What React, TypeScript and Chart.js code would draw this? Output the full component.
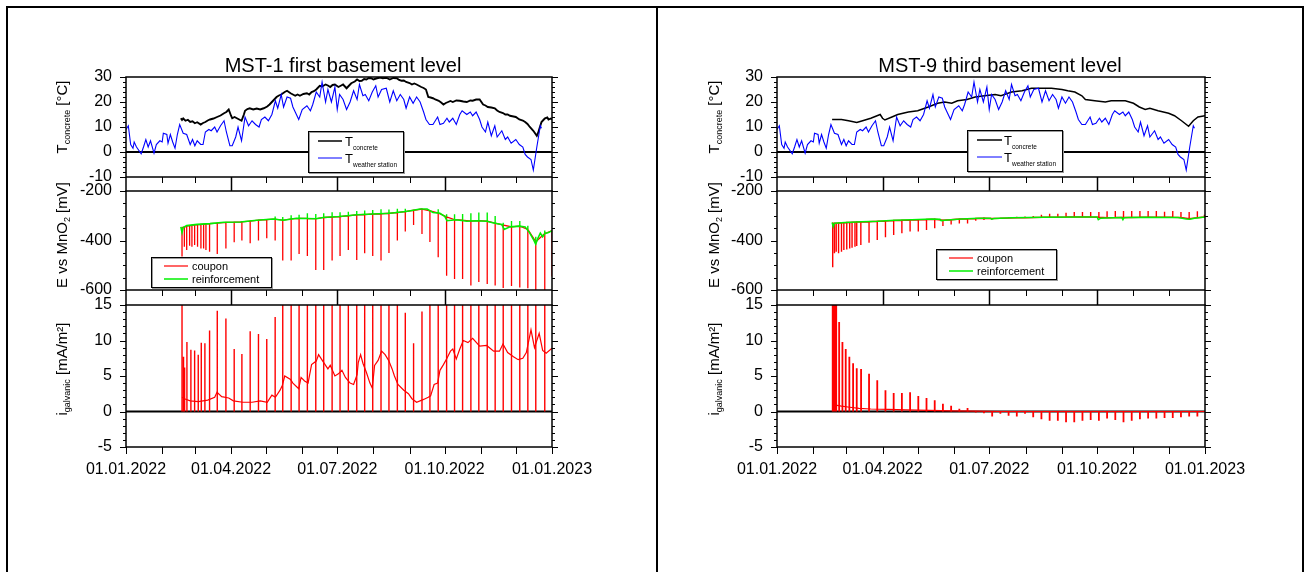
import { useEffect, useRef } from 'react';
import { Chart, registerables } from 'chart.js';

Chart.register(...registerables);

const W = 1310;
const H = 572;
const FONT = '"Liberation Sans", Arial, Helvetica, sans-serif';

// ---- axes: day of year 2022 ----
const monthStarts = [0, 31, 59, 90, 120, 151, 181, 212, 243, 273, 304, 334, 365];
const quarterStarts = [90, 181, 273];
const dateTicks = [0, 90, 181, 273, 365];
const dateLabels = ['01.01.2022', '01.04.2022', '01.07.2022', '01.10.2022', '01.01.2023'];

const tempTicks = [30, 20, 10, 0, -10];
const potentialTicks = [-200, -400, -600];
const currentTicks = [15, 10, 5, 0, -5];

// ---- temperatures [day, °C] ----
const weatherStation = [
  [0, 9], [2, 10.5], [4, 3], [6, 1.5], [7, 4], [9, 2], [13, -0.7], [15, 2], [17, 5], [19, 2], [21, 4.5],
  [24, -0.5], [26, 3], [29, 4.5], [31, 4], [32, 7.5], [35, 7], [36, 3.5], [38, 7], [40, 4], [42, 1.5],
  [44, 7], [46, 11], [49, 7.5], [52, 7], [55, 3], [57, 5], [59, 2.5], [61, 4.5], [64, 3], [66, 3],
  [68, 8], [71, 9], [73, 8.5], [76, 10], [78, 8], [81, 10.5], [84, 12.5], [86, 8], [89, 2.5], [91, 2.5],
  [94, 6], [96, 10], [99, 4.5], [102, 14], [105, 10.5], [108, 12.5], [111, 11], [114, 10], [116, 13],
  [119, 14], [122, 12.5], [125, 15], [128, 20.5], [130, 17.5], [133, 23], [135, 18], [138, 22], [141, 21.5],
  [143, 18], [148, 13], [151, 17], [155, 18.5], [158, 16.5], [160, 19], [163, 24], [166, 22], [168, 28],
  [171, 20], [173, 25], [176, 20], [179, 26], [181, 17], [183, 23], [186, 21], [189, 17], [192, 20],
  [195, 24.5], [198, 21], [200, 27], [203, 22.5], [205, 23], [208, 20.5], [211, 24], [214, 26.5], [216, 22],
  [219, 25], [223, 25.5], [226, 20], [229, 24.5], [232, 20.5], [235, 23], [238, 21], [240, 17.5], [243, 22],
  [246, 19.5], [249, 22], [252, 20], [255, 16], [257, 13], [260, 11], [263, 11], [267, 14], [269, 11],
  [272, 11.5], [275, 13.5], [277, 12], [280, 13.5], [283, 11], [286, 15], [288, 16.5], [292, 15], [295, 16],
  [297, 14.5], [300, 16], [303, 13], [305, 10], [308, 8], [310, 12], [313, 6.5], [316, 10.5], [318, 6],
  [322, 8.5], [325, 5], [327, 6], [330, 3.5], [334, 5], [337, 3], [340, 2], [342, -1], [344, -2], [347, -3],
  [349, -7.2], [352, 2], [355, 10.5], [356, 9.5],
];

const concreteMST1 = [
  [47, 13.5], [48, 12.8], [49, 13.4], [51, 12.5], [53, 12.9], [55, 12], [57, 12.3], [59, 11.5], [61, 11.9],
  [64, 11], [66, 11.6], [68, 12], [70, 12.6], [72, 13], [75, 13.4], [78, 14], [81, 14.6], [84, 15.5], [86, 16],
  [88, 17], [90, 14.5], [91, 13.5], [93, 14], [95, 13.5], [97, 13], [99, 12.5], [101, 15], [102, 16.5],
  [104, 17.2], [106, 17.5], [109, 17], [112, 17.4], [115, 17], [118, 17.5], [121, 18.2], [123, 19], [126, 20.5],
  [129, 22], [131, 22.6], [133, 23], [136, 24], [138, 24.5], [141, 23.5], [143, 23], [145, 22.5], [147, 23],
  [149, 22.5], [152, 23.2], [155, 23.5], [157, 23], [159, 24], [161, 24.3], [163, 25], [166, 26.5], [168, 26.2],
  [171, 27], [173, 26.6], [175, 26], [177, 26.8], [179, 27], [182, 26], [184, 26.5], [186, 27], [189, 25.5],
  [191, 26.5], [193, 27.5], [196, 28.2], [198, 29], [200, 28.4], [202, 28.5], [204, 29.2], [206, 29], [208, 29.6],
  [210, 29.5], [212, 29], [215, 29.5], [218, 29.8], [220, 29.5], [223, 29.7], [226, 29], [229, 29.6], [232, 29.5],
  [234, 28.8], [236, 28.5], [238, 28.6], [240, 28], [243, 27.6], [245, 27], [247, 27.4], [249, 27], [251, 26.5],
  [253, 26], [255, 25.6], [257, 25], [259, 22], [261, 21.8], [263, 21.5], [265, 21], [268, 20.5], [270, 19.8],
  [272, 19], [274, 19.6], [276, 20], [278, 20.4], [280, 20], [283, 20.6], [286, 20.5], [289, 20.2], [292, 20],
  [295, 20.6], [297, 20.5], [300, 21], [303, 21], [306, 19], [308, 18.6], [310, 18], [313, 17.8], [316, 17.5],
  [318, 16.6], [320, 16], [323, 15.6], [325, 15], [327, 15], [329, 14.5], [331, 14.3], [334, 14], [337, 13],
  [340, 12.6], [342, 12], [344, 11.2], [346, 10], [349, 8.5], [352, 6.5], [353, 7.5], [356, 12], [358, 13],
  [359, 13.5], [361, 13.8], [362, 13], [364, 13.4], [365, 13],
];

const concreteMST9 = [
  [47, 13], [55, 13], [61, 12.5], [68, 11.8], [73, 12.5], [80, 13.5], [88, 15], [90, 13.5], [92, 12.8],
  [98, 14], [103, 15], [112, 16], [120, 16.5], [129, 18], [137, 19.5], [143, 20], [149, 19.5], [154, 20.5],
  [162, 21], [169, 22], [177, 22.5], [186, 23], [191, 22.5], [200, 24], [209, 24.5], [217, 25.5], [226, 25.5],
  [234, 25.5], [243, 25], [248, 24.5], [254, 24], [260, 22.5], [263, 21], [271, 20.5], [280, 20], [285, 20.5],
  [297, 20.5], [304, 19.5], [309, 18], [314, 17], [318, 17.5], [325, 16.5], [334, 15.5], [339, 14.5],
  [345, 12.5], [351, 10.3], [355, 12.5], [359, 14], [365, 14.5],
];

// ---- potentials vs MnO2 [mV] ----
const reinforcementMST1 = [
  [47, -345], [48, -368], [49, -348], [52, -340], [61, -335], [72, -332], [84, -326], [98, -325], [112, -318],
  [126, -313], [135, -318], [146, -310], [163, -312], [169, -307], [183, -303], [198, -296], [212, -293],
  [226, -290], [240, -283], [252, -273], [258, -273], [263, -287], [269, -290], [273, -302], [275, -320],
  [283, -316], [292, -322], [300, -320], [309, -322], [316, -330], [322, -335], [324, -355], [329, -345],
  [337, -342], [342, -345], [346, -370], [349, -395], [351, -415], [353, -390], [355, -370], [357, -385],
  [359, -372], [362, -368], [365, -360],
];

// [day, reinforcement level, spike top]
const reinforcementSpikesMST1 = [
  [127.8, -314, -303], [134.3, -318, -305], [141.5, -313, -298], [148.3, -311, -296], [155.4, -311, -290],
  [162.6, -312, -293], [169.4, -307, -290], [176.6, -305, -286], [183.4, -303, -286], [190.5, -300, -284],
  [197.7, -296, -281], [204.5, -295, -279], [211.4, -293, -277], [218.5, -292, -274], [225.3, -290, -275],
  [232.5, -287, -272], [239.3, -283, -272], [267.5, -289, -274], [274.7, -305, -294], [281.5, -316, -294],
  [288.4, -318, -293], [295.5, -322, -290], [302.3, -320, -287], [309.5, -322, -287], [316.3, -330, -301],
  [323.2, -338, -328], [330.3, -345, -321], [337.4, -342, -321], [344.3, -355, -340], [351.1, -405, -385],
  [358.8, -372, -360],
];

// [day, coupon level, spike bottom]
const couponSpikesMST1 = [
  [48, -348, -465], [50, -346, -425], [52, -342, -438], [54.5, -340, -421], [56.5, -339, -425], [58.8, -337, -418],
  [61.3, -336, -425], [64.2, -335, -432], [66.5, -334, -432], [68.5, -333, -438], [71.6, -332, -445],
  [78.2, -330, -455], [85.6, -327, -432], [92.7, -326, -407], [99.3, -325, -400], [106.4, -322, -411],
  [113.5, -318, -400], [120.6, -316, -391], [127.8, -314, -400], [134.3, -318, -481], [141.5, -313, -481],
  [148.3, -311, -455], [155.4, -311, -463], [162.6, -312, -519], [169.4, -307, -519], [176.6, -305, -481],
  [183.4, -303, -463], [190.5, -300, -438], [197.7, -296, -479], [204.5, -295, -452], [211.4, -293, -463],
  [218.5, -292, -481], [225.3, -290, -450], [232.5, -287, -400], [239.3, -283, -364], [246.4, -278, -337],
  [253.6, -273, -374], [260.4, -280, -406], [267.5, -289, -468], [274.7, -305, -542], [281.5, -316, -556],
  [288.4, -318, -556], [295.5, -322, -582], [302.3, -320, -568], [309.5, -322, -576], [316.3, -330, -582],
  [323.2, -338, -592], [330.3, -345, -584], [337.4, -342, -590], [344.3, -355, -593], [351.1, -405, -600],
  [358.8, -372, -602], [365, -360, -545],
];

const reinforcementMST9 = [
  [47, -327], [48, -344], [49, -330], [58, -327], [72, -324], [86, -322], [100, -318], [115, -316], [132, -313],
  [139, -314], [140, -320], [143, -318], [157, -313], [172, -310], [182, -310], [183, -314], [185, -311],
  [200, -308], [228, -306], [257, -305], [273, -305], [274, -316], [276, -310], [280, -309], [294, -307],
  [295, -316], [296, -308], [300, -307], [314, -306], [342, -307], [349, -313], [352, -314], [356, -310],
  [365, -305],
];

// [day, coupon level, spike end]
const couponSpikesMST9 = [
  [47.5, -330, -508], [49, -330, -452], [50.5, -330, -445], [52.5, -329, -452], [55, -328, -445], [57, -328, -438],
  [59.5, -327, -436], [62, -327, -432], [64, -326, -429], [66.5, -326, -425], [68, -325, -422], [71.5, -325, -418],
  [78.5, -324, -409], [85.5, -322, -398], [92.5, -321, -387], [99.5, -319, -378], [106.5, -318, -371],
  [113.5, -317, -364], [120.5, -316, -364], [127.5, -315, -358], [134.5, -314, -351], [141.5, -318, -341],
  [148.5, -316, -335], [155.5, -313, -331], [162.5, -312, -331], [169.5, -311, -320], [176.5, -310, -317],
  [183.5, -311, -315], [190.5, -310, -313], [197.5, -309, -312], [204.5, -308, -304], [211.5, -308, -303],
  [218.5, -307, -301], [225.5, -306, -296], [232.5, -306, -292], [239.5, -306, -292], [246.5, -305, -288],
  [253.5, -305, -285], [260.5, -305, -285], [267.5, -305, -285], [274.5, -306, -285], [281.5, -308, -282],
  [288.5, -307, -281], [295.5, -307, -281], [302.5, -307, -281], [309.5, -306, -281], [316.5, -306, -281],
  [323.5, -306, -281], [330.5, -306, -284], [337.5, -306, -281], [344.5, -307, -285], [351.5, -312, -285],
  [358.5, -308, -282], [364.5, -305, -296],
];

// ---- galvanic current density [mA/m²] ----
const currentMST1 = [
  [48, 2], [50, 1.8], [55, 1.5], [62, 1.4], [70, 1.6], [76, 2], [78, 2.7], [82, 2.1], [88, 1.9], [92, 1.5],
  [100, 1.3], [108, 1.3], [115, 1.5], [121, 1.3], [125, 2.3], [128, 2], [132, 3], [134, 3.7], [136, 5],
  [141, 4.5], [143, 4], [148, 3.2], [150, 4.8], [153, 4.3], [156, 4], [159, 6.6], [163, 7.1], [165, 8],
  [169, 7], [173, 6], [175, 6.5], [179, 5], [182, 5.3], [185, 5.8], [188, 4.8], [192, 4], [195, 3.8],
  [198, 5.2], [199, 6.9], [201, 8], [203, 6.8], [206, 5.5], [209, 4], [211, 3.3], [213, 6.5], [216, 7.2],
  [219, 8.5], [222, 8], [225, 7.2], [228, 6], [230, 5], [233, 3.8], [238, 3], [242, 2.5], [245, 1.8],
  [249, 1.3], [255, 1.7], [259, 2], [261, 2.2], [264, 3.8], [267, 4], [269, 5.8], [272, 6.6], [275, 7.5],
  [278, 8.5], [280, 8.8], [283, 7.4], [286, 8.8], [289, 10], [293, 9.7], [297, 10.3], [303, 9.2], [309, 9.3],
  [315, 8.5], [320, 8.5], [323, 9.5], [327, 8.3], [332, 7.7], [336, 7.3], [340, 7.5], [343, 8.3], [347, 11.5],
  [350, 9], [354, 11], [357, 8.6], [360, 8.2], [365, 8.9],
];

// [day, spike top] – spikes start at 0
const currentSpikesMST1 = [
  [48, 15], [49.3, 7.7], [50.2, 6.2], [52.2, 9.8], [55.6, 8.7], [58.8, 8.6], [61.9, 8], [64.5, 9.7], [67.6, 9.6],
  [71.6, 11.4], [78.2, 14.2], [85.6, 13.1], [92.7, 8.8], [99.3, 8.1], [106.4, 11.3], [113.5, 10.9], [120.6, 10.2],
  [127.8, 13.3], [134.3, 15], [141.5, 15], [148.3, 15], [155.4, 15], [162.6, 15], [169.4, 15], [176.6, 15],
  [183.4, 15], [190.5, 15], [197.7, 15], [204.5, 15], [211.4, 15], [218.5, 15], [225.3, 15], [232.5, 15],
  [239.3, 13.9], [246.4, 9.6], [253.6, 14.1], [260.4, 15], [267.5, 15], [274.7, 15], [281.5, 15], [288.4, 15],
  [295.5, 15], [302.3, 15], [309.5, 15], [316.3, 15], [323.2, 15], [330.3, 15], [337.4, 15], [344.3, 15],
  [351.1, 15], [358.8, 15],
];

const currentMST9 = [
  [47.5, 0.9], [50, 0.9], [55, 0.75], [62, 0.6], [70, 0.45], [80, 0.35], [95, 0.3], [110, 0.22], [130, 0.15],
  [150, 0.1], [170, 0.05], [190, 0], [365, 0],
];

const currentSpikesMST9 = [
  [47.5, 15], [48.3, 15], [49, 15], [49.8, 15], [50.5, 15], [53, 12.6], [55.8, 9.8], [58.6, 8.8], [61.7, 7.7],
  [64.9, 6.8], [68, 6.1], [71.7, 6], [78.5, 5.3], [85.5, 4.4], [92.5, 3], [99.5, 2.6], [106.5, 2.6], [113.5, 2.7],
  [120.5, 2.2], [127.5, 1.9], [134.5, 1.6], [141.5, 1.1], [148.5, 0.8], [155.5, 0.4], [162.5, 0.5],
  [169.5, -0.15], [176.5, -0.25], [183.5, -0.7], [190.5, -0.3], [197.5, -0.6], [204.5, -0.7], [211.5, -0.3],
  [218.5, -0.8], [225.5, -1.1], [232.5, -1.3], [239.5, -1.3], [246.5, -1.5], [253.5, -1.5], [260.5, -1.3],
  [267.5, -1.2], [274.5, -1.3], [281.5, -1], [288.5, -1.2], [295.5, -1.5], [302.5, -1.3], [309.5, -1.1],
  [316.5, -1], [323.5, -1], [330.5, -0.9], [337.5, -0.9], [344.5, -0.8], [351.5, -0.7], [358.5, -0.7],
];

// ---- helpers turning the arrays into Chart.js points ----
type XY = { x: number; y: number | null };
const toXY = (pts: number[][]): XY[] => pts.map(([x, y]) => ({ x, y }));
// vertical segments separated by gaps
const toSpikes = (list: number[][]): XY[] =>
  list.flatMap(([d, a, b]) => [{ x: d, y: a }, { x: d, y: b }, { x: d, y: null }]);
// continuous line dipping to each spike and back
const toSaw = (list: number[][]): XY[] =>
  list.flatMap(([d, a, b]) => [{ x: d, y: a }, { x: d, y: b }, { x: d, y: a }]);
const fromZero = (list: number[][]): XY[] =>
  list.flatMap(([d, p]) => [{ x: d, y: 0 }, { x: d, y: p }, { x: d, y: null }]);

const ds = (data: XY[], color: string, width: number) => ({
  data,
  borderColor: color,
  backgroundColor: color,
  borderWidth: width,
  pointRadius: 0,
  fill: false,
  spanGaps: false,
  tension: 0,
  borderCapStyle: 'butt' as const,
});

const RED = '#ff0000';
const GREEN = '#00f000';
const BLUE = '#0000ff';
const BLACK = '#000000';

type Parts = [string, boolean][];
interface LegendRow { y: number; color: string; width: number; parts: Parts }
interface LegendSpec {
  box: [number, number, number, number];
  x1: number; x2: number; tx: number;
  size: number; sub: number; textDrop: number; subDrop: number;
  rows: LegendRow[];
}
interface Spec {
  key: string;
  area: { l: number; t: number; r: number; b: number };
  yMin: number; yMax: number; yMinor: number; yLabels: number[];
  strip?: number;
  zero?: boolean;
  datasets: any[];
  yTitle: { parts: Parts; x: number; cy: number };
  legend?: LegendSpec;
  decor?: { frame: [number, number, number, number]; title: string; tx: number };
}

function drawParts(ctx: CanvasRenderingContext2D, parts: Parts, x: number, y: number, size: number, sub: number, drop: number, centered: boolean) {
  const widths = parts.map(([t, s]) => {
    ctx.font = `${s ? sub : size}px ${FONT}`;
    return ctx.measureText(t).width;
  });
  const total = widths.reduce((a, b) => a + b, 0);
  let cx = centered ? x - total / 2 : x;
  ctx.textAlign = 'left';
  ctx.textBaseline = 'alphabetic';
  parts.forEach(([t, s], i) => {
    ctx.font = `${s ? sub : size}px ${FONT}`;
    ctx.fillText(t, cx, s ? y + drop : y);
    cx += widths[i];
  });
}

function subplotPlugin(spec: Spec) {
  const seg = (ctx: CanvasRenderingContext2D, x1: number, y1: number, x2: number, y2: number) => {
    ctx.beginPath();
    ctx.moveTo(x1, y1);
    ctx.lineTo(x2, y2);
    ctx.stroke();
  };
  return {
    id: 'subplot-' + spec.key,
    beforeDatasetsDraw(chart: Chart) {
      if (!spec.zero) return;
      const { ctx, chartArea: a } = chart;
      const y0 = chart.scales.y.getPixelForValue(0);
      ctx.save();
      ctx.strokeStyle = BLACK;
      ctx.lineWidth = 2;
      seg(ctx, a.left, y0, a.right, y0);
      ctx.restore();
    },
    afterDraw(chart: Chart) {
      const { ctx, chartArea: a } = chart;
      const xs = chart.scales.x;
      const ys = chart.scales.y;
      ctx.save();
      ctx.strokeStyle = BLACK;
      ctx.fillStyle = BLACK;

      // frame of the axes
      ctx.lineWidth = 1.5;
      ctx.strokeRect(a.left, a.top, a.right - a.left, a.bottom - a.top);

      // y ticks on both sides, pointing outwards
      ctx.lineWidth = 1;
      const n = Math.round((spec.yMax - spec.yMin) / spec.yMinor);
      for (let k = 0; k <= n; k++) {
        const v = spec.yMin + k * spec.yMinor;
        const py = Math.round(ys.getPixelForValue(v)) + 0.5;
        const len = spec.yLabels.includes(v) ? 6 : 3;
        seg(ctx, a.left - len, py, a.left, py);
        seg(ctx, a.right, py, a.right + len, py);
      }
      ctx.font = `16px ${FONT}`;
      ctx.textAlign = 'right';
      ctx.textBaseline = 'middle';
      spec.yLabels.forEach((v) => ctx.fillText(String(v), a.left - 14, ys.getPixelForValue(v)));

      // x ticks
      if (spec.strip) {
        ctx.lineWidth = 1.5;
        seg(ctx, a.left, a.bottom, a.left, a.bottom + spec.strip);
        seg(ctx, a.right, a.bottom, a.right, a.bottom + spec.strip);
        monthStarts.forEach((d) => {
          if (d === 0 || d === 365) return;
          const px = Math.round(xs.getPixelForValue(d)) + 0.5;
          const major = quarterStarts.includes(d);
          ctx.lineWidth = major ? 1.5 : 1;
          seg(ctx, px, a.bottom, px, a.bottom + (major ? spec.strip! : 6));
        });
      } else {
        ctx.lineWidth = 1;
        monthStarts.forEach((d) => {
          const px = Math.round(xs.getPixelForValue(d)) + 0.5;
          seg(ctx, px, a.bottom, px, a.bottom + 7);
        });
        ctx.font = `16px ${FONT}`;
        ctx.textAlign = 'center';
        ctx.textBaseline = 'middle';
        dateTicks.forEach((d, i) => ctx.fillText(dateLabels[i], xs.getPixelForValue(d), a.bottom + 23));
      }

      // rotated axis title
      ctx.save();
      ctx.translate(spec.yTitle.x, spec.yTitle.cy);
      ctx.rotate(-Math.PI / 2);
      drawParts(ctx, spec.yTitle.parts, 0, 0, 15, 9, 3, true);
      ctx.restore();

      // legend
      const L = spec.legend;
      if (L) {
        const [bx, by, bw, bh] = L.box;
        ctx.fillStyle = '#ffffff';
        ctx.fillRect(bx, by, bw, bh);
        ctx.lineWidth = 1;
        ctx.strokeStyle = '#9a9a9a';
        ctx.strokeRect(bx + 1.5, by + 1.5, bw, bh);
        ctx.strokeStyle = BLACK;
        ctx.strokeRect(bx + 0.5, by + 0.5, bw, bh);
        L.rows.forEach((r) => {
          ctx.strokeStyle = r.color;
          ctx.lineWidth = r.width;
          seg(ctx, L.x1, r.y, L.x2, r.y);
          ctx.fillStyle = BLACK;
          drawParts(ctx, r.parts, L.tx, r.y + L.textDrop, L.size, L.sub, L.subDrop, false);
        });
      }

      // panel frame and title
      const D = spec.decor;
      if (D) {
        ctx.strokeStyle = BLACK;
        ctx.lineWidth = 2;
        ctx.strokeRect(D.frame[0], D.frame[1], D.frame[2], D.frame[3]);
        ctx.fillStyle = BLACK;
        ctx.font = `20px ${FONT}`;
        ctx.textAlign = 'center';
        ctx.textBaseline = 'middle';
        ctx.fillText(D.title, D.tx, 66);
      }
      ctx.restore();
    },
  };
}

const ROW_TOP = { t: 77, b: 177 };
const ROW_MID = { t: 191, b: 290 };
const ROW_BOT = { t: 305, b: 447 };
const PANEL_X = [
  { l: 126, r: 552, title: 67 },
  { l: 777, r: 1205, title: 719 },
];

const tempTitle: Parts = [['T', false], ['concrete', true], [' [°C]', false]];
const potTitle: Parts = [['E vs MnO', false], ['2', true], [' [mV]', false]];
const curTitle: Parts = [['i', false], ['galvanic', true], [' [mA/m²]', false]];

function tempLegend(box: [number, number, number, number], x1: number, x2: number, tx: number, y1: number, y2: number): LegendSpec {
  return {
    box, x1, x2, tx, size: 13, sub: 6.5, textDrop: 5, subDrop: 4,
    rows: [
      { y: y1, color: BLACK, width: 1.5, parts: [['T', false], ['concrete', true]] },
      { y: y2, color: BLUE, width: 1, parts: [['T', false], ['weather station', true]] },
    ],
  };
}
function potLegend(box: [number, number, number, number], x1: number, x2: number, tx: number, y1: number, y2: number): LegendSpec {
  return {
    box, x1, x2, tx, size: 11, sub: 8, textDrop: 3.5, subDrop: 3,
    rows: [
      { y: y1, color: RED, width: 1.2, parts: [['coupon', false]] },
      { y: y2, color: GREEN, width: 1.5, parts: [['reinforcement', false]] },
    ],
  };
}

const SPECS: Spec[] = [
  {
    key: 'm1-temp',
    area: { l: PANEL_X[0].l, r: PANEL_X[0].r, ...ROW_TOP },
    yMin: -10, yMax: 30, yMinor: 2, yLabels: tempTicks, strip: 14, zero: true,
    datasets: [ds(toXY(weatherStation), BLUE, 1.1), ds(toXY(concreteMST1), BLACK, 1.9)],
    yTitle: { parts: tempTitle, x: PANEL_X[0].title, cy: 117 },
    legend: tempLegend([308, 131, 95, 41], 318, 342, 345, 141, 158),
    decor: { frame: [7, 7, 650, 620], title: 'MST-1 first basement level', tx: 343 },
  },
  {
    key: 'm1-pot',
    area: { l: PANEL_X[0].l, r: PANEL_X[0].r, ...ROW_MID },
    yMin: -600, yMax: -200, yMinor: 50, yLabels: potentialTicks, strip: 15,
    datasets: [
      ds(toXY(reinforcementMST1), GREEN, 1.6),
      ds(toSpikes(reinforcementSpikesMST1), GREEN, 1.4),
      ds(toSaw(couponSpikesMST1), RED, 1.3),
    ],
    yTitle: { parts: potTitle, x: PANEL_X[0].title, cy: 235 },
    legend: potLegend([151, 257, 120, 30], 164, 188, 192, 266, 279),
  },
  {
    key: 'm1-cur',
    area: { l: PANEL_X[0].l, r: PANEL_X[0].r, ...ROW_BOT },
    yMin: -5, yMax: 15, yMinor: 1, yLabels: currentTicks, zero: true,
    datasets: [ds(toXY(currentMST1), RED, 1.2), ds(fromZero(currentSpikesMST1), RED, 1.4)],
    yTitle: { parts: curTitle, x: PANEL_X[0].title, cy: 369 },
  },
  {
    key: 'm9-temp',
    area: { l: PANEL_X[1].l, r: PANEL_X[1].r, ...ROW_TOP },
    yMin: -10, yMax: 30, yMinor: 2, yLabels: tempTicks, strip: 14, zero: true,
    datasets: [ds(toXY(weatherStation), BLUE, 1.1), ds(toXY(concreteMST9), BLACK, 1.5)],
    yTitle: { parts: tempTitle, x: PANEL_X[1].title, cy: 117 },
    legend: tempLegend([967, 130, 95, 41], 977, 1002, 1004, 140, 157),
    decor: { frame: [657, 7, 646, 620], title: 'MST-9 third basement level', tx: 1000 },
  },
  {
    key: 'm9-pot',
    area: { l: PANEL_X[1].l, r: PANEL_X[1].r, ...ROW_MID },
    yMin: -600, yMax: -200, yMinor: 50, yLabels: potentialTicks, strip: 15,
    datasets: [ds(toXY(reinforcementMST9), GREEN, 1.5), ds(toSaw(couponSpikesMST9), RED, 1.4)],
    yTitle: { parts: potTitle, x: PANEL_X[1].title, cy: 235 },
    legend: potLegend([936, 249, 120, 30], 949, 973, 977, 258, 271),
  },
  {
    key: 'm9-cur',
    area: { l: PANEL_X[1].l, r: PANEL_X[1].r, ...ROW_BOT },
    yMin: -5, yMax: 15, yMinor: 1, yLabels: currentTicks, zero: true,
    datasets: [ds(toXY(currentMST9), RED, 1.2), ds(fromZero(currentSpikesMST9), RED, 1.8)],
    yTitle: { parts: curTitle, x: PANEL_X[1].title, cy: 369 },
  },
];

function makeChart(canvas: HTMLCanvasElement, spec: Spec) {
  const a = spec.area;
  return new Chart(canvas, {
    type: 'line',
    data: { datasets: spec.datasets },
    options: {
      responsive: false,
      animation: false,
      devicePixelRatio: 1,
      events: [],
      layout: {
        autoPadding: false,
        padding: { left: a.l, top: a.t, right: W - a.r, bottom: H - a.b },
      },
      scales: {
        x: { type: 'linear', min: 0, max: 365, display: false },
        y: { type: 'linear', min: spec.yMin, max: spec.yMax, display: false },
      },
      plugins: { legend: { display: false }, tooltip: { enabled: false } },
    },
    plugins: [subplotPlugin(spec)],
  } as any);
}

export default function App() {
  const refs = useRef<(HTMLCanvasElement | null)[]>([]);
  useEffect(() => {
    const charts = SPECS.map((spec, i) => makeChart(refs.current[i]!, spec));
    return () => charts.forEach((c) => c.destroy());
  }, []);
  return (
    <div style={{ position: 'absolute', left: 0, top: 0, width: W, height: H, background: '#fff', overflow: 'hidden' }}>
      {SPECS.map((s, i) => (
        <canvas
          key={s.key}
          ref={(el) => { refs.current[i] = el; }}
          width={W}
          height={H}
          style={{ position: 'absolute', left: 0, top: 0, width: W, height: H }}
        />
      ))}
    </div>
  );
}
